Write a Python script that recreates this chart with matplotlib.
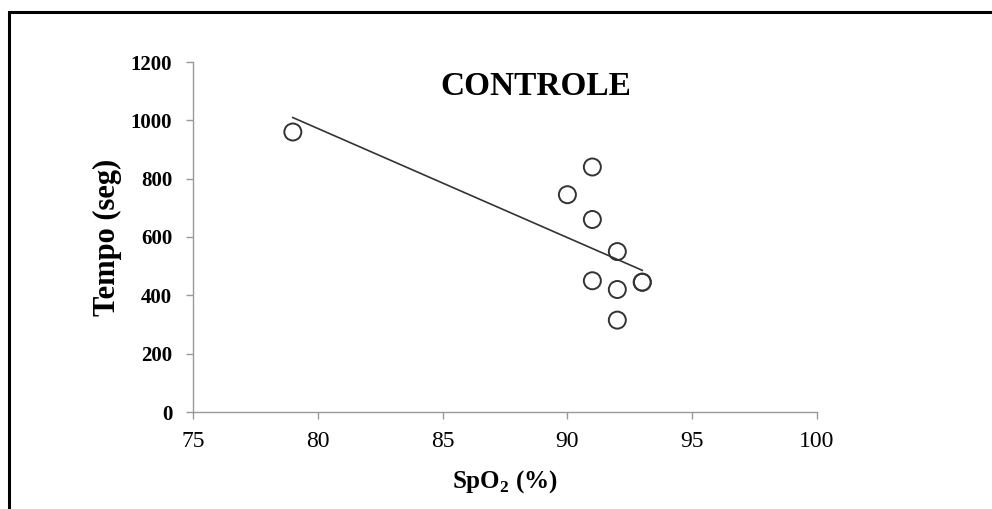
import matplotlib.pyplot as plt
import matplotlib.patches as patches
import numpy as np

# dados (grupo controle)
spo2 = [79, 90, 91, 91, 92, 91, 92, 92, 93, 93]
tempo = [960, 745, 840, 660, 550, 450, 420, 315, 445, 445]
x_ticks = [75, 80, 85, 90, 95, 100]
y_ticks = [0, 200, 400, 600, 800, 1000, 1200]

serif = "Liberation Serif"
plt.rcParams["mathtext.fontset"] = "custom"
plt.rcParams["mathtext.rm"] = serif
plt.rcParams["mathtext.bf"] = serif + ":bold"

fig = plt.figure(figsize=(9.92, 5.09), dpi=100)
ax = fig.add_axes([193 / 992, 1 - 412 / 509, (817 - 193) / 992, (412 - 62) / 509])

# moldura preta em volta do grafico
fig.patches.append(patches.Rectangle((9 / 992, -0.05), 1.1, 1 - 12 / 509 + 0.05,
                                     transform=fig.transFigure, fill=False,
                                     edgecolor="black", linewidth=2.2))

ax.scatter(spo2, tempo, s=150, facecolors="none", edgecolors="#333333",
           linewidths=1.4, zorder=3)

# linha de tendencia linear
coef = np.polyfit(spo2, tempo, 1)
xl = np.array([min(spo2), max(spo2)])
ax.plot(xl, np.polyval(coef, xl), color="#333333", linewidth=1.2)

ax.set_xlim(75, 100)
ax.set_ylim(0, 1200)
ax.set_xticks(x_ticks)
ax.set_yticks(y_ticks)
ax.set_xticklabels([str(v) for v in x_ticks], fontfamily=serif, fontsize=17)
ax.set_yticklabels([str(v) for v in y_ticks], fontfamily=serif, fontsize=15,
                   fontweight="bold")

for s in ["top", "right"]:
    ax.spines[s].set_visible(False)
for s in ["left", "bottom"]:
    ax.spines[s].set_color("#999999")
    ax.spines[s].set_linewidth(1.0)
ax.tick_params(axis="both", colors="#999999", length=5, width=1.0, labelcolor="black")
ax.tick_params(axis="x", pad=9)
ax.tick_params(axis="y", pad=10)

ax.set_xlabel("SpO$_\\mathbf{2}$ (%)", fontfamily=serif, fontsize=18,
              fontweight="bold", labelpad=11)
ax.set_ylabel("Tempo (seg)", fontfamily=serif, fontsize=22, fontweight="bold",
              labelpad=6)

ax.text(0.55, 0.93, "CONTROLE", transform=ax.transAxes, ha="center", va="center",
        fontfamily=serif, fontsize=24, fontweight="bold")

fig.savefig("out.png", dpi=100)
